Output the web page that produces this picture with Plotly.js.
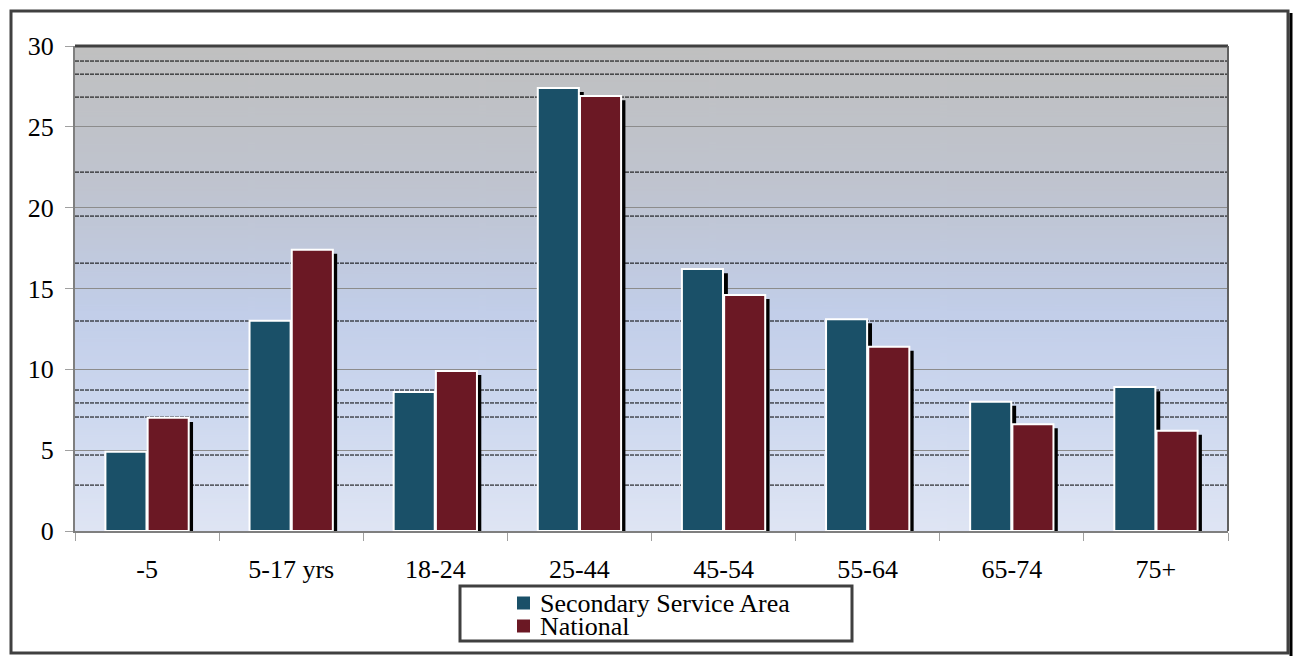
<!DOCTYPE html>
<html>
<head>
<meta charset="utf-8">
<script src="https://cdn.plot.ly/plotly-3.0.1.min.js"></script>
<style>
html,body{margin:0;padding:0;background:#fff;}
#chart{width:1293px;height:656px;}
</style>
</head>
<body>
<div id="chart"></div>
<script>
// ---- data ----
var categories = ["-5", "5-17 yrs", "18-24", "25-44", "45-54", "55-64", "65-74", "75+"];
var seriesNames = ["Secondary Service Area", "National"];
var secondaryValues = [4.9, 13.0, 8.6, 27.4, 16.2, 13.1, 8.0, 8.9];
var nationalValues = [7.0, 17.4, 9.9, 26.9, 14.6, 11.4, 6.6, 6.2];
var yTickValues = [0, 5, 10, 15, 20, 25, 30];
// stray dotted lines visible in the reference background (in axis units)
var strayLines = [29.07, 28.26, 26.84, 22.2, 19.48, 16.57, 12.99, 8.72, 7.92, 7.05, 4.7, 2.84];

// ---- styles ----
var tealColor = "#1a5068";
var maroonColor = "#6b1824";
var FONT = "Liberation Serif";
var W = 1293, H = 656;
var L = 75, R = 1228, T = 46, B = 531;
function px(x){ return (x - L) / (R - L); }
function py(y){ return (B - y) / (B - T); }

// gradient background image
var cv = document.createElement("canvas");
cv.width = 10; cv.height = 500;
var ctx = cv.getContext("2d");
var g = ctx.createLinearGradient(0, 0, 0, 500);
g.addColorStop(0, "#c0c0c0");
g.addColorStop(0.3, "#bfc4d0");
g.addColorStop(0.55, "#c2cee9");
g.addColorStop(0.75, "#cdd8ef");
g.addColorStop(1, "#dfe5f4");
ctx.fillStyle = g; ctx.fillRect(0, 0, 10, 500);
var bgURL = cv.toDataURL();

var barW = 0.285;
var shadowDx = 0.03;
var shadowDy = 0.25;
function shadowOf(arr){ return arr.map(function(v){ return v - shadowDy; }); }

var traces = [
  {type: "bar", x: categories, y: shadowOf(secondaryValues), offset: -barW + shadowDx, width: barW,
   marker: {color: "#000"}, showlegend: false, hoverinfo: "skip"},
  {type: "bar", x: categories, y: shadowOf(nationalValues), offset: shadowDx + 0.004, width: barW,
   marker: {color: "#000"}, showlegend: false, hoverinfo: "skip"},
  {type: "bar", name: seriesNames[0], x: categories, y: secondaryValues, offset: -barW - 0.004, width: barW,
   marker: {color: tealColor, line: {color: "#ffffff", width: 2}}, showlegend: false},
  {type: "bar", name: seriesNames[1], x: categories, y: nationalValues, offset: 0.004, width: barW,
   marker: {color: maroonColor, line: {color: "#ffffff", width: 2}}, showlegend: false}
];

var shapes = [];
strayLines.forEach(function(v){
  shapes.push({type: "line", xref: "paper", yref: "y", x0: 0, x1: 1, y0: v, y1: v,
    line: {color: "#000", width: 1, dash: "4px,1px"}, layer: "below"});
});
// plot area top and right border
shapes.push({type: "line", xref: "paper", yref: "paper", x0: 0, x1: 1, y0: 1, y1: 1,
  line: {color: "#404040", width: 3}});
shapes.push({type: "line", xref: "paper", yref: "paper", x0: 1, x1: 1, y0: 0, y1: 1,
  line: {color: "#606060", width: 2}});
// outer frame
shapes.push({type: "rect", xref: "paper", yref: "paper", x0: px(11), x1: px(1288), y0: py(653), y1: py(11),
  line: {color: "#404040", width: 3}});
shapes.push({type: "line", xref: "paper", yref: "paper", x0: px(1291), x1: px(1291), y0: py(656), y1: py(13),
  line: {color: "#000", width: 3}});
// legend box
shapes.push({type: "rect", xref: "paper", yref: "paper", x0: px(460), x1: px(852), y0: py(641), y1: py(586),
  line: {color: "#404040", width: 3}, fillcolor: "#ffffff"});
var legendColors = [tealColor, maroonColor];
var legendYs = [603, 626];
var annotations = [];
for (var i = 0; i < seriesNames.length; i++) {
  shapes.push({type: "rect", xref: "paper", yref: "paper", x0: px(517), x1: px(530),
    y0: py(legendYs[i] + 6.5), y1: py(legendYs[i] - 6.5), line: {width: 0}, fillcolor: legendColors[i]});
  annotations.push({xref: "paper", yref: "paper", x: px(538), y: py(legendYs[i]), xanchor: "left", yanchor: "middle",
    text: seriesNames[i], showarrow: false, font: {family: FONT, size: 26, color: "#000"}});
}

var layout = {
  width: W, height: H,
  margin: {l: L, r: W - R, t: T, b: H - B, pad: 0},
  paper_bgcolor: "#ffffff",
  plot_bgcolor: "rgba(0,0,0,0)",
  barmode: "overlay",
  showlegend: false,
  font: {family: FONT, size: 26, color: "#000"},
  xaxis: {
    type: "category", range: [-0.5, categories.length - 0.5],
    showgrid: false, showline: true, linecolor: "#7f7f7f", linewidth: 2,
    ticks: "outside", tickson: "boundaries", ticklen: 8, tickcolor: "#a0a0a0", tickwidth: 1,
    ticklabelstandoff: 14,
    tickfont: {family: FONT, size: 26, color: "#000"}
  },
  yaxis: {
    range: [0, 30], tickvals: yTickValues, ticktext: yTickValues.map(String),
    showgrid: true, gridcolor: "#8c8c8c", gridwidth: 1, zeroline: false,
    showline: true, linecolor: "#7f7f7f", linewidth: 2,
    ticks: "outside", ticklen: 8, tickcolor: "#a0a0a0", tickwidth: 1,
    ticklabelstandoff: 6,
    tickfont: {family: FONT, size: 26, color: "#000"}
  },
  images: [{source: bgURL, xref: "paper", yref: "paper", x: 0, y: 1, sizex: 1, sizey: 1,
    sizing: "stretch", xanchor: "left", yanchor: "top", layer: "below"}],
  shapes: shapes,
  annotations: annotations
};

Plotly.newPlot("chart", traces, layout, {displayModeBar: false, staticPlot: true});
</script>
</body>
</html>
